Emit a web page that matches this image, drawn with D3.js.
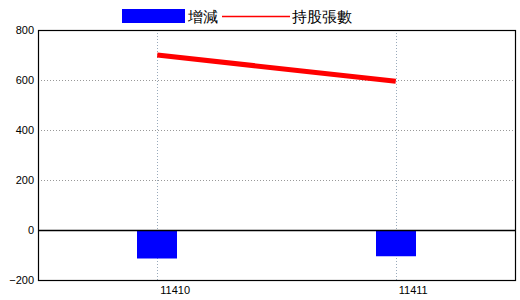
<!DOCTYPE html>
<html lang="zh-Hant">
<head>
<meta charset="UTF-8">
<title>持股張數</title>
<script src="https://cdn.jsdelivr.net/npm/d3@7/dist/d3.min.js"></script>
<style>
  body { margin: 0; background: #fff; }
  svg text { font-family: "Liberation Sans", "DejaVu Sans", sans-serif; }
</style>
</head>
<body>
<svg id="chart" width="520" height="300"></svg>
<script>
// data
let periods = ["11410", "11411"]
let change = [-114, -105]        // 增減 (bars)
let holding = [700, 595]         // 持股張數 (line)
let yTicks = [-200, 0, 200, 400, 600, 800]

let svg = d3.select("#chart")
let mLeft = 38, mRight = 515, mTop = 30, mBottom = 280

let x = d3.scaleBand().domain(periods).range([mLeft, mRight]).padding(0)
let y = d3.scaleLinear().domain([-200, 800]).range([mBottom, mTop])

// grid
svg.append("g").selectAll("line").data(yTicks.filter(d => d > 0 && d < 800))
  .enter().append("line")
  .attr("x1", mLeft).attr("x2", mRight)
  .attr("y1", d => Math.round(y(d)) + 0.5).attr("y2", d => Math.round(y(d)) + 0.5)
  .attr("stroke", "#999").attr("stroke-dasharray", "1,2")

svg.append("g").selectAll("line").data(periods)
  .enter().append("line")
  .attr("x1", d => Math.round(x(d) + x.bandwidth() / 2) + 0.5)
  .attr("x2", d => Math.round(x(d) + x.bandwidth() / 2) + 0.5)
  .attr("y1", mTop).attr("y2", mBottom)
  .attr("stroke", "#9ab").attr("stroke-dasharray", "1,2")

// bars
let barW = 40
svg.append("g").selectAll("rect").data(periods)
  .enter().append("rect")
  .attr("x", d => Math.round(x(d) + x.bandwidth() / 2 - barW / 2))
  .attr("width", barW)
  .attr("y", (d, i) => y(Math.max(0, change[i])))
  .attr("height", (d, i) => Math.abs(y(change[i]) - y(0)))
  .attr("fill", "#0000ff")

// zero line
svg.append("line")
  .attr("x1", mLeft).attr("x2", mRight)
  .attr("y1", Math.round(y(0)) + 0.5).attr("y2", Math.round(y(0)) + 0.5)
  .attr("stroke", "#000").attr("stroke-width", 1.5)

// line
let line = d3.line()
  .x((d, i) => x(periods[i]) + x.bandwidth() / 2)
  .y(d => y(d))
svg.append("path").datum(holding)
  .attr("d", line)
  .attr("fill", "none")
  .attr("stroke", "#ff0000")
  .attr("stroke-width", 5)

// frame
svg.append("rect")
  .attr("x", mLeft + 0.5).attr("y", mTop + 0.5)
  .attr("width", mRight - mLeft).attr("height", mBottom - mTop)
  .attr("fill", "none").attr("stroke", "#000").attr("stroke-width", 1.2)

// y axis labels
let yaxis = d3.axisLeft(y).tickValues(yTicks).tickSize(0).tickPadding(4)
let gy = svg.append("g").attr("transform", `translate(${mLeft},0)`).call(yaxis)
gy.select(".domain").remove()
gy.selectAll("text").attr("font-size", 11).attr("fill", "#000")
  .attr("font-family", "'Liberation Sans', sans-serif")

// x axis labels (start just right of the tick, like the original)
let xaxis = d3.axisBottom(x).tickSize(0).tickPadding(6)
let gx = svg.append("g").attr("transform", `translate(0,${mBottom})`).call(xaxis)
gx.select(".domain").remove()
gx.selectAll("text").attr("font-size", 11).attr("fill", "#000")
  .attr("text-anchor", "start").attr("x", 3)
  .attr("font-family", "'Liberation Sans', sans-serif")

// legend
let legend = svg.append("g")
legend.append("rect").attr("x", 122).attr("y", 9).attr("width", 63).attr("height", 14).attr("fill", "#0000ff")
legend.append("text").attr("x", 188).attr("y", 22).text("增減")
  .attr("font-size", 15).attr("font-family", "'Noto Sans CJK TC', sans-serif")
legend.append("line").attr("x1", 222).attr("x2", 290).attr("y1", 16.5).attr("y2", 16.5)
  .attr("stroke", "#ff0000").attr("stroke-width", 1.5)
legend.append("text").attr("x", 292).attr("y", 22).text("持股張數")
  .attr("font-size", 15).attr("font-family", "'Noto Sans CJK TC', sans-serif")
</script>
</body>
</html>
